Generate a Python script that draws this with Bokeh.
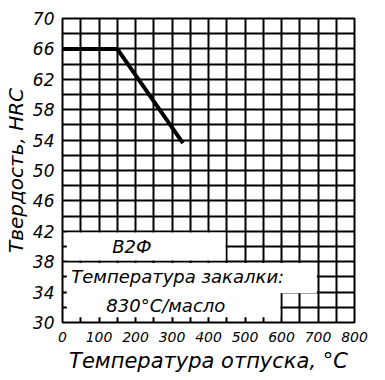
from bokeh.plotting import figure
from bokeh.models import FixedTicker, Range1d
from bokeh.core.properties import value
from bokeh.embed import file_html
from bokeh.resources import INLINE

# ---- data ----
temps = [0, 150, 330]
hrc = [66, 66, 53.6]
x_ticks = [0, 100, 200, 300, 400, 500, 600, 700, 800]
y_ticks = [30, 34, 38, 42, 46, 50, 54, 58, 62, 66, 70]
x_grid = list(range(0, 801, 50))
y_grid = list(range(30, 71, 2))
steel = ["В2Ф"]
quench_label = ["Температура закалки:"]
quench_value = ["830°C/масло"]
x_title = "Температура отпуска, °C"
y_title = "Твердость, HRC"

FONT = "DejaVu Sans"

p = figure(width=385, height=380, x_range=Range1d(0, 800), y_range=Range1d(30, 70),
           output_backend="svg", toolbar_location=None,
           min_border_left=62, min_border_right=31, min_border_top=18, min_border_bottom=58)
p.background_fill_color = "white"
p.border_fill_color = "white"
p.outline_line_color = "black"
p.outline_line_width = 2

# grid
p.xgrid.ticker = FixedTicker(ticks=x_grid)
p.ygrid.ticker = FixedTicker(ticks=y_grid)
for g in (p.xgrid, p.ygrid):
    g.grid_line_color = "black"
    g.grid_line_width = 2
    g.grid_line_alpha = 1.0

# axes
p.xaxis.ticker = FixedTicker(ticks=x_ticks)
p.yaxis.ticker = FixedTicker(ticks=y_ticks)
for ax in (p.xaxis, p.yaxis):
    ax.axis_line_color = None
    ax.major_tick_line_color = None
    ax.minor_tick_line_color = None
    ax.major_tick_out = 0
    ax.major_tick_in = 0
    ax.minor_tick_out = 0
    ax.minor_tick_in = 0
    ax.major_label_text_font = FONT
    ax.major_label_text_font_style = "italic"
    ax.major_label_text_color = "black"
    ax.axis_label_text_font = FONT
    ax.axis_label_text_font_style = "italic"
    ax.axis_label_text_color = "black"
p.xaxis.major_label_text_font_size = "14px"
p.yaxis.major_label_text_font_size = "17px"
p.xaxis.major_label_standoff = 9
p.yaxis.major_label_standoff = 8
p.xaxis.axis_label = x_title
p.yaxis.axis_label = y_title
p.xaxis.axis_label_text_font_size = "21px"
p.yaxis.axis_label_text_font_size = "20px"
p.xaxis.axis_label_standoff = 4
p.yaxis.axis_label_standoff = 2

# white boxes over the grid (caption area)
dx = 800 / 292 * 1.2
dy = 40 / 303 * 1.2
stub_x = 12
stub_y = 0.7
p.quad(left=[stub_x, stub_x, stub_x],
       right=[450 - dx, 700 - dx, 600 - dx],
       bottom=[38 + dy, 34 - dy, 30 + stub_y],
       top=[42 - dy, 38 - dy, 34 + dy],
       fill_color="white", line_color=None)

# curve
p.line(temps, hrc, line_width=4, line_color="black")

# texts
p.text(x=[190], y=[40], text=steel, text_font=value(FONT), text_font_style="italic",
       text_font_size="18px", text_align="center", text_baseline="middle", text_color="black")
p.text(x=[24], y=[36], text=quench_label, text_font=value(FONT), text_font_style="italic",
       text_font_size="18px", text_align="left", text_baseline="middle", text_color="black")
p.text(x=[120], y=[32.2], text=quench_value, text_font=value(FONT), text_font_style="italic",
       text_font_size="18px", text_align="left", text_baseline="middle", text_color="black")

open("out.html", "w").write(file_html(p, INLINE))
